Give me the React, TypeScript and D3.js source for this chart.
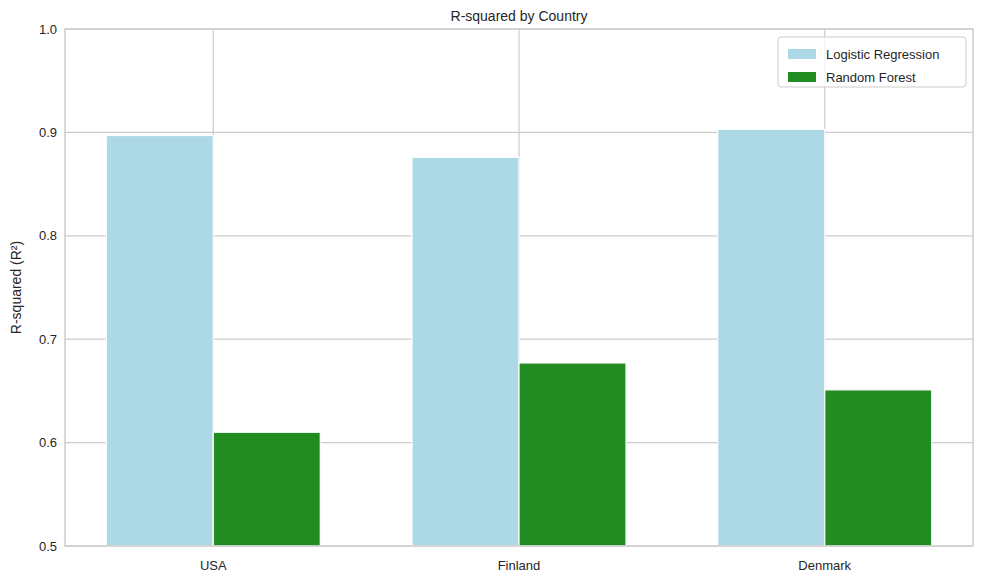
import React from "react";
import * as d3 from "d3";

const countries = ["USA", "Finland", "Denmark"];
const logistic = [0.897, 0.876, 0.903];
const forest = [0.61, 0.677, 0.651];
const yTicks = [0.5, 0.6, 0.7, 0.8, 0.9, 1.0];
const seriesNames = ["Logistic Regression", "Random Forest"];
const colors = ["#add8e6", "#228b22"];

export default function App() {
  const W = 984, H = 583;
  const L = 65, R = 973, T = 29, B = 546;
  const x = d3.scaleLinear().domain([-0.485, 2.485]).range([L, R]);
  const y = d3.scaleLinear().domain([0.5, 1.0]).range([B, T]);
  const bw = 0.35;
  const font = "'Liberation Sans', Arial, sans-serif";
  const grid = "#cccccc";
  return (
    <svg width={W} height={H} style={{ position: "absolute", left: 0, top: 0 }} fontFamily={font}>
      <rect width={W} height={H} fill="#fff" />
      {yTicks.map((t) => (
        <g key={t}>
          <line x1={L} x2={R} y1={y(t)} y2={y(t)} stroke={grid} strokeWidth={1.2} />
          <text x={L - 8} y={y(t)} dy="0.35em" textAnchor="end" fontSize={13} fill="#262626">{t.toFixed(1)}</text>
        </g>
      ))}
      {countries.map((c, i) => (
        <g key={c}>
          <line x1={x(i)} x2={x(i)} y1={T} y2={B} stroke={grid} strokeWidth={1.2} />
          <text x={x(i)} y={B + 24} textAnchor="middle" fontSize={13} fill="#262626">{c}</text>
        </g>
      ))}
      {[logistic, forest].map((vals, s) =>
        vals.map((v, i) => {
          const x0 = x(i + (s === 0 ? -bw : 0));
          const x1 = x(i + (s === 0 ? 0 : bw));
          return <rect key={s + "-" + i} x={x0} y={y(v)} width={x1 - x0} height={B - y(v)} fill={colors[s]} stroke="#fff" strokeWidth={1.2} />;
        })
      )}
      <rect x={L} y={T} width={R - L} height={B - T} fill="none" stroke={grid} strokeWidth={1.5} />
      <text x={(L + R) / 2} y={T - 8} textAnchor="middle" fontSize={14} fill="#262626">R-squared by Country</text>
      <text transform={`translate(21,${(T + B) / 2}) rotate(-90)`} textAnchor="middle" fontSize={14} fill="#262626">R-squared (R²)</text>
      <g transform="translate(778,37)">
        <rect width={188} height={50} rx={3} fill="#fff" fillOpacity={0.8} stroke={grid} />
        {seriesNames.map((n, k) => (
          <g key={n} transform={`translate(10,${12 + k * 23})`}>
            <rect width={28} height={10} fill={colors[k]} />
            <text x={38} y={5} dy="0.35em" fontSize={13} fill="#262626">{n}</text>
          </g>
        ))}
      </g>
    </svg>
  );
}
